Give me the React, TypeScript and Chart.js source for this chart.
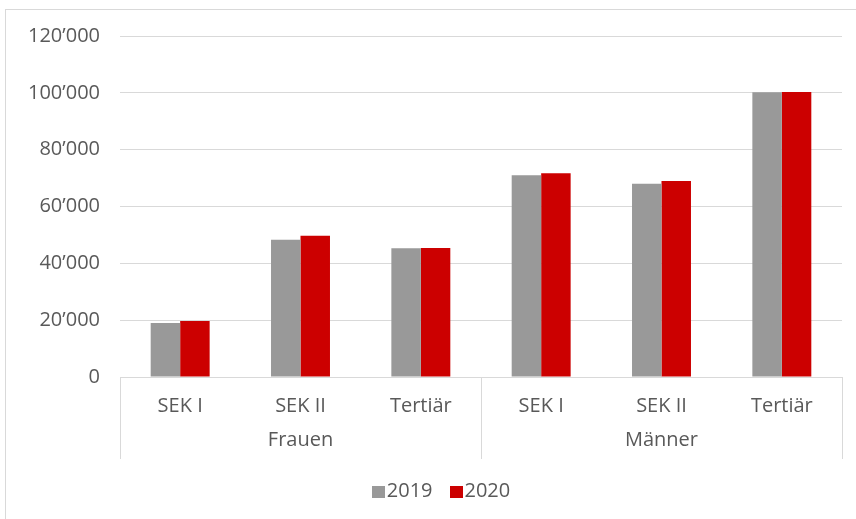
import React, { useEffect, useRef } from "react";
import { Chart, registerables } from "chart.js";

Chart.register(...registerables);

const categories = ["SEK I", "SEK II", "Tertiär", "SEK I", "SEK II", "Tertiär"];
const groups = ["Frauen", "Männer"];
const seriesNames = ["2019", "2020"];
const values2019 = [19000, 48300, 45300, 71000, 68000, 100200];
const values2020 = [19700, 49700, 45400, 71700, 69000, 100300];
const yTicks = [0, 20000, 40000, 60000, 80000, 100000, 120000];

const TEXT = "#595959";
const GRID = "#d9d9d9";
const FONT = "'Open Sans', sans-serif";
const FONT_SIZE = 20;

const fmt = (v: number) => {
  const s = Math.round(v).toString();
  return s.replace(/\B(?=(\d{3})+(?!\d))/g, "\u2019");
};

const separatorPlugin = {
  id: "groupSeparators",
  afterDraw(chart: any) {
    const x = chart.scales.x;
    const x2 = chart.scales.x2;
    const ctx = chart.ctx;
    const n = chart.data.labels.length;
    const perGroup = n / groups.length;
    const xs: number[] = [x.left];
    for (let g = 1; g < groups.length; g++) {
      const a = x.getPixelForTick(g * perGroup - 1);
      const b = x.getPixelForTick(g * perGroup);
      xs.push((a + b) / 2);
    }
    xs.push(x.right);
    ctx.save();
    ctx.strokeStyle = GRID;
    ctx.lineWidth = 1;
    for (const px of xs) {
      const p = Math.round(px) + 0.5;
      ctx.beginPath();
      ctx.moveTo(p, chart.chartArea.bottom);
      ctx.lineTo(p, x2.bottom);
      ctx.stroke();
    }
    ctx.restore();
  },
};

const legendPlugin = {
  id: "customLegend",
  afterDraw(chart: any) {
    const ctx = chart.ctx;
    ctx.save();
    ctx.font = `${FONT_SIZE}px ${FONT}`;
    const boxW = 13;
    const boxH = 12;
    const gapBoxText = 2;
    const gapItems = 17;
    const items = chart.data.datasets.map((d: any) => ({
      text: d.label,
      color: d.backgroundColor,
      w: ctx.measureText(d.label).width,
    }));
    let total = 0;
    items.forEach((it: any, i: number) => {
      total += boxW + gapBoxText + it.w + (i < items.length - 1 ? gapItems : 0);
    });
    const centerX = 441;
    let cx = centerX - total / 2;
    const baseline = 497;
    items.forEach((it: any) => {
      ctx.fillStyle = it.color;
      ctx.fillRect(Math.round(cx), baseline - 11, boxW, boxH);
      cx += boxW + gapBoxText;
      ctx.fillStyle = TEXT;
      ctx.textBaseline = "alphabetic";
      ctx.textAlign = "left";
      ctx.fillText(it.text, cx, baseline);
      cx += it.w + gapItems;
    });
    ctx.restore();
  },
};

export default function App() {
  const ref = useRef<HTMLCanvasElement | null>(null);

  useEffect(() => {
    if (!ref.current) return;
    const chart = new Chart(ref.current, {
      type: "bar",
      data: {
        labels: categories,
        datasets: [
          {
            label: seriesNames[0],
            data: values2019,
            backgroundColor: "#999999",
            categoryPercentage: 0.49,
            barPercentage: 1.0,
          },
          {
            label: seriesNames[1],
            data: values2020,
            backgroundColor: "#cc0000",
            categoryPercentage: 0.49,
            barPercentage: 1.0,
          },
        ],
      },
      plugins: [separatorPlugin, legendPlugin],
      options: {
        animation: false,
        responsive: false,
        maintainAspectRatio: false,
        layout: { padding: { left: 0, right: 14, top: 36, bottom: 60 } },
        plugins: {
          legend: { display: false },
          tooltip: { enabled: false },
        },
        scales: {
          x: {
            type: "category",
            position: "bottom",
            grid: { display: false, drawTicks: false },
            border: { display: true, color: GRID, width: 1 },
            ticks: {
              color: TEXT,
              font: { family: FONT, size: FONT_SIZE },
              padding: 17,
              maxRotation: 0,
              autoSkip: false,
            },
            afterFit(scale: any) {
              scale.height = 41;
            },
          },
          x2: {
            type: "category",
            position: "bottom",
            labels: groups,
            offset: true,
            grid: { display: false, drawTicks: false },
            border: { display: false },
            ticks: {
              color: TEXT,
              font: { family: FONT, size: FONT_SIZE },
              padding: 10,
              maxRotation: 0,
              autoSkip: false,
            },
            afterFit(scale: any) {
              scale.height = 41;
            },
          },
          y: {
            min: yTicks[0],
            max: yTicks[yTicks.length - 1],
            afterBuildTicks(scale: any) {
              scale.ticks = yTicks.map((v) => ({ value: v }));
            },
            grid: { color: GRID, lineWidth: 1, drawTicks: false },
            border: { display: false },
            ticks: {
              color: TEXT,
              font: { family: FONT, size: FONT_SIZE },
              padding: 20,
              callback: (v: any) => fmt(Number(v)),
            },
            afterFit(scale: any) {
              scale.width = 120;
            },
          },
        },
      },
    } as any);
    return () => chart.destroy();
  }, []);

  return (
    <div style={{ position: "fixed", left: 0, top: 0, width: 856, height: 519, background: "#fff", overflow: "hidden" }}>
      <div
        style={{
          position: "absolute",
          left: 5,
          top: 9,
          width: 900,
          height: 600,
          border: "1px solid #d9d9d9",
          boxSizing: "border-box",
        }}
      />
      <canvas ref={ref} width={856} height={519} style={{ position: "absolute", left: 0, top: 0, width: 856, height: 519 }} />
    </div>
  );
}
